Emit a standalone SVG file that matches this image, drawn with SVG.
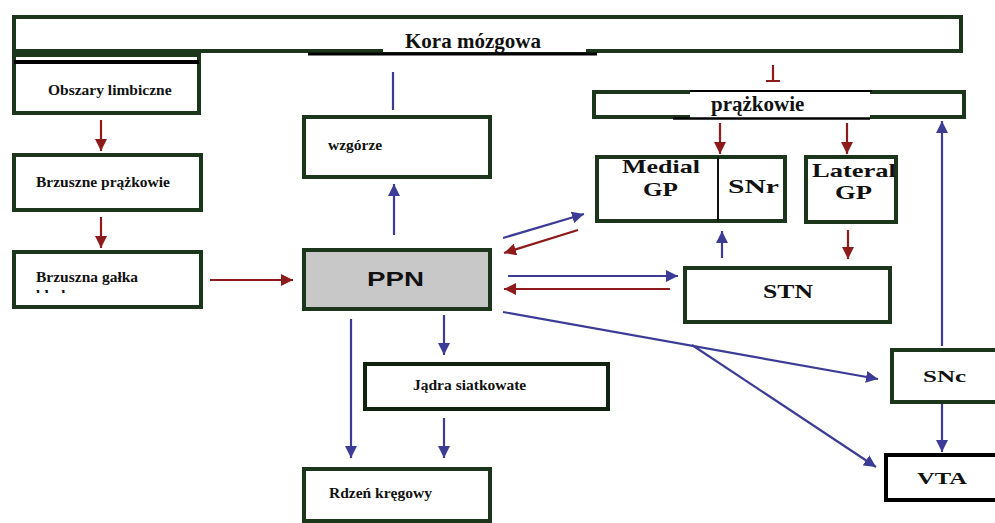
<svg xmlns="http://www.w3.org/2000/svg" width="995" height="523" viewBox="0 0 995 523">
<style>
.box{fill:#fff;stroke:#1c361c;stroke-width:4}
.t{font-family:"Liberation Serif","Times New Roman",serif;font-weight:bold;fill:#111}
.s{font-size:15.5px}
.w{font-size:19px}
.r{stroke:#8e1b1b;stroke-width:2.2;fill:none}
.b{stroke:#3c3c96;stroke-width:2.2;fill:none}
.ra{marker-end:url(#mr)}
.ba{marker-end:url(#mb)}
</style>
<defs>
<marker id="mr" markerUnits="userSpaceOnUse" markerWidth="12" markerHeight="12" viewBox="0 0 10 10" refX="10" refY="5" orient="auto">
<path d="M0,0 L10,5 L0,10 z" fill="#8e1b1b"/>
</marker>
<marker id="mb" markerUnits="userSpaceOnUse" markerWidth="12" markerHeight="12" viewBox="0 0 10 10" refX="10" refY="5" orient="auto">
<path d="M0,0 L10,5 L0,10 z" fill="#3c3c96"/>
</marker>
<clipPath id="cl"><rect x="14" y="283" width="185" height="10"/></clipPath>
</defs>
<rect width="995" height="523" fill="#fff"/>

<g id="kora">
<rect class="box" x="14" y="17" width="947" height="34"/>
<rect x="383" y="19" width="203" height="33" fill="#fff"/>
<line x1="308" y1="54" x2="597" y2="54" stroke="#000" stroke-width="3"/>
<text class="t" x="405" y="48" font-size="21">Kora mózgowa</text>
</g>

<g id="obszary">
<rect class="box" x="14" y="55" width="185" height="58"/>
<line x1="14" y1="62" x2="199" y2="62" stroke="#000" stroke-width="4"/>
<text class="t s" x="48" y="95">Obszary limbiczne</text>
</g>

<g id="brzuszne">
<rect class="box" x="14" y="155" width="187" height="55"/>
<text class="t s" x="36" y="187">Brzuszne prążkowie</text>
</g>

<g id="galka">
<rect class="box" x="14" y="252" width="187" height="55"/>
<text class="t s" x="36" y="282">Brzuszna gałka</text>
<text class="t s" x="36" y="300" clip-path="url(#cl)">blada</text>
</g>

<g id="wzgorze">
<rect class="box" x="304" y="117" width="186" height="60"/>
<text class="t s" x="328" y="150">wzgórze</text>
</g>

<g id="ppn">
<rect class="box" x="304" y="250" width="186" height="59" fill="#c8c8c8" style="fill:#c8c8c8"/>
<text x="367" y="286" font-family="'Liberation Sans',Arial,sans-serif" font-weight="bold" font-size="20" textLength="57" lengthAdjust="spacingAndGlyphs" fill="#111">PPN</text>
</g>

<g id="prazkowie">
<rect class="box" x="594" y="92" width="370" height="25"/>
<rect x="690" y="88" width="180" height="32" fill="#fff"/>
<line x1="690" y1="91" x2="872" y2="91" stroke="#000" stroke-width="2"/>
<line x1="673" y1="118.5" x2="870" y2="118.5" stroke="#000" stroke-width="2.5"/>
<text class="t" x="711" y="111" font-size="21">prążkowie</text>
</g>

<g id="medial">
<rect class="box" x="597" y="157" width="188" height="64"/>
<line x1="718" y1="157" x2="718" y2="221" stroke="#111" stroke-width="2"/>
<text class="t w" x="622" y="173" textLength="78" lengthAdjust="spacingAndGlyphs">Medial</text>
<text class="t w" x="643" y="196" textLength="35" lengthAdjust="spacingAndGlyphs">GP</text>
<text class="t w" x="728" y="193" textLength="51" lengthAdjust="spacingAndGlyphs">SNr</text>
</g>

<g id="lateral">
<rect class="box" x="806" y="157" width="90" height="65"/>
<text class="t w" x="812" y="177" textLength="84" lengthAdjust="spacingAndGlyphs">Lateral</text>
<text class="t w" x="835" y="199" textLength="37" lengthAdjust="spacingAndGlyphs">GP</text>
</g>

<g id="stn">
<rect class="box" x="685" y="268" width="205" height="54"/>
<text class="t w" x="763" y="298" textLength="50" lengthAdjust="spacingAndGlyphs">STN</text>
</g>

<g id="snc">
<rect class="box" x="892" y="350" width="110" height="52"/>
<text class="t" x="923" y="382" font-size="17.5" textLength="43" lengthAdjust="spacingAndGlyphs">SNc</text>
</g>

<g id="vta">
<rect class="box" x="886" y="455" width="116" height="45" style="stroke:#000"/>
<text class="t" x="917" y="484" font-size="17.5" textLength="50" lengthAdjust="spacingAndGlyphs">VTA</text>
</g>

<g id="jadra">
<rect class="box" x="365" y="364" width="243" height="45" style="stroke:#0f230f"/>
<text class="t s" x="413" y="390">Jądra siatkowate</text>
</g>

<g id="rdzen">
<rect class="box" x="304" y="469" width="186" height="52"/>
<text class="t s" x="329" y="498">Rdzeń kręgowy</text>
</g>

<g id="connectors">
<line class="r ra" x1="101" y1="120" x2="101" y2="151"/>
<line class="r ra" x1="101" y1="217" x2="101" y2="248"/>
<line class="r ra" x1="210" y1="280" x2="293" y2="280"/>
<line class="b" x1="393" y1="72" x2="393" y2="110" stroke-width="3"/>
<line class="b ba" x1="394" y1="235" x2="394" y2="184"/>
<path class="r" d="M773,65 V81 M766,81 H780"/>
<line class="r ra" x1="720" y1="123" x2="720" y2="154"/>
<line class="r ra" x1="847" y1="123" x2="847" y2="154"/>
<line class="b ba" x1="722" y1="258" x2="722" y2="231"/>
<line class="r ra" x1="848" y1="230" x2="848" y2="259"/>
<line class="b ba" x1="503" y1="238" x2="584" y2="214"/>
<line class="r ra" x1="578" y1="230" x2="504" y2="253"/>
<line class="b ba" x1="508" y1="276" x2="678" y2="276"/>
<line class="r ra" x1="670" y1="289" x2="504" y2="289"/>
<line class="b ba" x1="503" y1="312" x2="878" y2="379"/>
<line class="b ba" x1="692" y1="345" x2="876" y2="467"/>
<line class="b ba" x1="942" y1="346" x2="942" y2="121"/>
<line class="b ba" x1="942" y1="404" x2="942" y2="452"/>
<line class="b ba" x1="351" y1="319" x2="351" y2="458"/>
<line class="b ba" x1="444" y1="315" x2="444" y2="355"/>
<line class="b ba" x1="444" y1="418" x2="444" y2="458"/>
</g>
</svg>
